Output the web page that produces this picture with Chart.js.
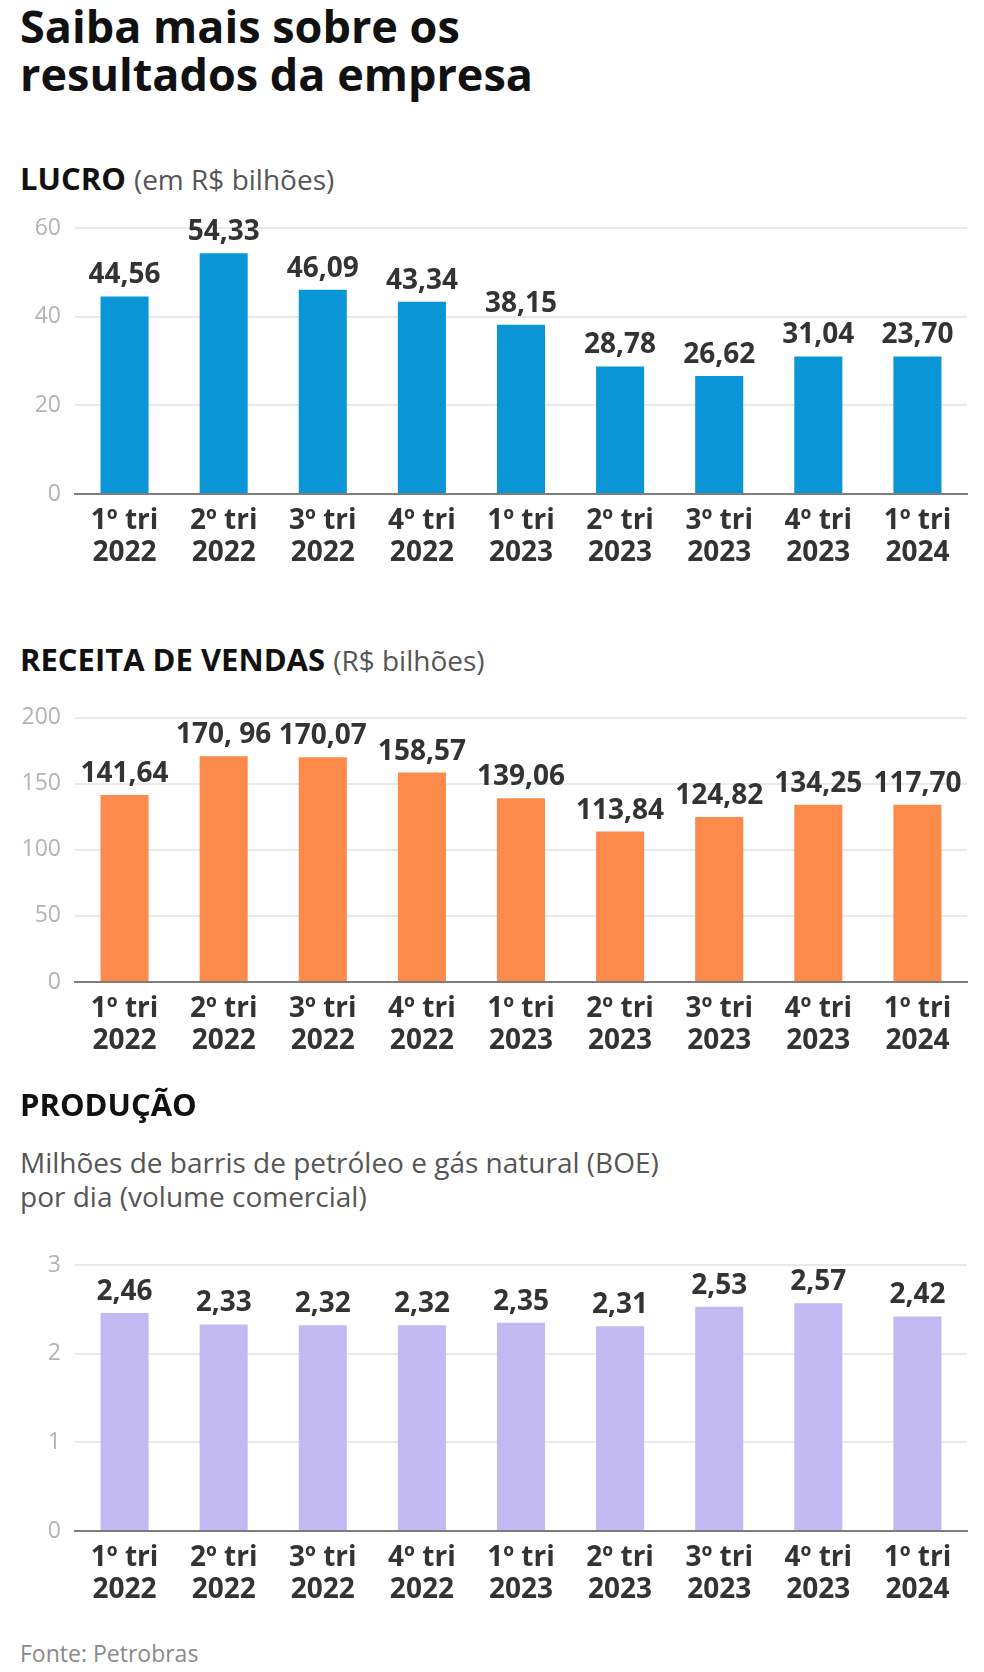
<!DOCTYPE html>
<html lang="pt-BR">
<head>
<meta charset="utf-8">
<script src="https://cdn.jsdelivr.net/npm/chart.js@4.4.1/dist/chart.umd.min.js"></script>
<style>
  html, body { margin: 0; padding: 0; background: #fff; }
  body { width: 984px; height: 1672px; position: relative; overflow: hidden; font-family: "Open Sans", sans-serif; }
  .t { position: absolute; left: 20px; white-space: nowrap; }
  #title { top: 2px; font-size: 45px; line-height: 48px; font-weight: 700; color: #111; }
  .h { font-size: 31px; line-height: 36px; font-weight: 700; color: #111; }
  .h span { font-size: 28px; font-weight: 400; color: #555; }
  #sub { top: 1145px; font-size: 28px; line-height: 34px; color: #555; }
  #fonte { top: 1639px; font-size: 23px; line-height: 29px; color: #8a8a8a; }
  canvas { position: absolute; left: 0; }
</style>
</head>
<body>
<div class="t" id="title">Saiba mais sobre os<br>resultados da empresa</div>
<div class="t h" style="top:160px">LUCRO <span>(em R$ bilhões)</span></div>
<canvas id="c1" width="984" height="400" style="top:200px"></canvas>
<div class="t h" style="top:641px">RECEITA DE VENDAS <span>(R$ bilhões)</span></div>
<canvas id="c2" width="984" height="400" style="top:690px"></canvas>
<div class="t h" style="top:1086px">PRODUÇÃO</div>
<div class="t" id="sub">Milhões de barris de petróleo e gás natural (BOE)<br>por dia (volume comercial)</div>
<canvas id="c3" width="984" height="400" style="top:1230px"></canvas>
<div class="t" id="fonte">Fonte: Petrobras</div>
<script>
const categories = [
  ['1º tri', '2022'], ['2º tri', '2022'], ['3º tri', '2022'], ['4º tri', '2022'],
  ['1º tri', '2023'], ['2º tri', '2023'], ['3º tri', '2023'], ['4º tri', '2023'],
  ['1º tri', '2024']
];

// Bar heights as drawn in the picture
const lucroValues = [44.56, 54.33, 46.09, 43.34, 38.15, 28.78, 26.62, 31.04, 31.04];
// Value labels as printed in the picture
const lucroLabels = ['44,56', '54,33', '46,09', '43,34', '38,15', '28,78', '26,62', '31,04', '23,70'];
const lucroTicks = [0, 20, 40, 60];

const receitaValues = [141.64, 170.96, 170.07, 158.57, 139.06, 113.84, 124.82, 134.25, 134.25];
const receitaLabels = ['141,64', '170, 96', '170,07', '158,57', '139,06', '113,84', '124,82', '134,25', '117,70'];
const receitaTicks = [0, 50, 100, 150, 200];

const producaoValues = [2.46, 2.33, 2.32, 2.32, 2.35, 2.31, 2.53, 2.57, 2.42];
const producaoLabels = ['2,46', '2,33', '2,32', '2,32', '2,35', '2,31', '2,53', '2,57', '2,42'];
const producaoTicks = [0, 1, 2, 3];

const valueLabelPlugin = {
  id: 'valueLabels',
  afterDatasetsDraw(chart, args, opts) {
    const ctx = chart.ctx;
    const meta = chart.getDatasetMeta(0);
    ctx.save();
    ctx.font = 'bold 28px "Open Sans"';
    ctx.fillStyle = '#333333';
    ctx.textAlign = 'center';
    ctx.textBaseline = 'alphabetic';
    meta.data.forEach((bar, i) => {
      ctx.fillText(opts.labels[i], bar.x, bar.y - 13);
    });
    ctx.restore();
  }
};

function makeChart(id, values, labels, ticks, color, padTop, xHeight) {
  const max = ticks[ticks.length - 1];
  const step = ticks[1] - ticks[0];
  return new Chart(document.getElementById(id), {
    type: 'bar',
    data: {
      labels: categories,
      datasets: [{
        data: values,
        backgroundColor: color,
        borderWidth: 0,
        barPercentage: 0.485,
        categoryPercentage: 1
      }]
    },
    plugins: [valueLabelPlugin],
    options: {
      responsive: false,
      animation: false,
      devicePixelRatio: 1,
      layout: { padding: { top: padTop, right: 17, left: 0, bottom: 0 } },
      plugins: {
        legend: { display: false },
        tooltip: { enabled: false },
        valueLabels: { labels: labels }
      },
      scales: {
        x: {
          grid: { display: false, drawTicks: false },
          border: { display: true, color: '#7d7d7d', width: 2 },
          ticks: {
            color: '#333333',
            font: { family: '"Open Sans"', size: 28, weight: 'bold', lineHeight: 1.14 },
            padding: 11,
            maxRotation: 0,
            autoSkip: false
          },
          afterFit: s => { s.height = xHeight; }
        },
        y: {
          min: 0,
          max: max,
          ticks: {
            stepSize: step,
            color: '#b3b3b3',
            font: { family: '"Open Sans"', size: 23 },
            padding: 14
          },
          grid: {
            color: c => (c.tick && c.tick.value === 0) ? 'rgba(0,0,0,0)' : '#e6e9ed',
            lineWidth: 2,
            drawTicks: false
          },
          border: { display: false },
          afterFit: s => { s.width = 75; }
        }
      }
    }
  });
}

makeChart('c1', lucroValues, lucroLabels, lucroTicks, '#0a96d6', 28, 106);
makeChart('c2', receitaValues, receitaLabels, receitaTicks, '#fb8a4b', 27, 108);
makeChart('c3', producaoValues, producaoLabels, producaoTicks, '#c3b9f2', 35, 99);
</script>
</body>
</html>
